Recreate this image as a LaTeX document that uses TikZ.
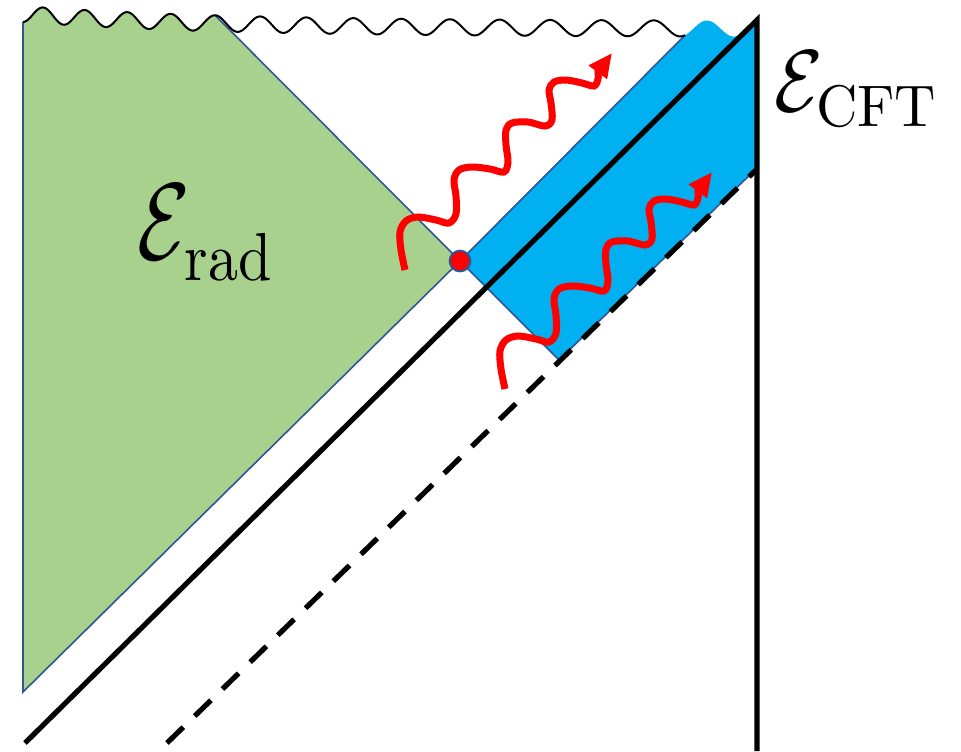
\documentclass[tikz,border=0pt]{standalone}
\usepackage{graphicx}
\usetikzlibrary{arrows.meta}
\definecolor{grn}{RGB}{169,209,142}
\definecolor{blu}{RGB}{0,176,240}
\definecolor{edgeblue}{RGB}{47,85,151}
\definecolor{phred}{RGB}{255,0,0}
\begin{document}
\begin{tikzpicture}[x=0.75pt,y=-0.75pt,
  declare function={wn(\x)=(sqrt(1701.6+1.764*(\x-43))-41.25)/0.882;
                    wv(\x)=29-15*exp(-(\x-23)/200)-8*cos(360*wn(\x));},
  rim/.style={draw=edgeblue, line width=1.2pt, line join=miter},
  wavyline/.style={draw=black, line width=1.5pt},
  boldline/.style={draw=black, line width=3.9pt, line join=miter},
  dashline/.style={draw=black, line width=3.9pt, dash pattern=on 17pt off 12pt},
  photonline/.style={draw=phred, line width=5.25pt, -{Triangle[length=18pt,width=16pt]}},
  photon/.pic={
    \draw[photonline] plot[smooth, tension=0.55] coordinates {
      (405,270) (401,250) (400,232) (406,221) (418,217) (436,220) (449,223)
      (456,214) (456,196) (454,180) (459,170) (472,167) (490,169) (504,172)
      (508,162) (506,145) (506,130) (512,123) (528,122) (545,126)
      (552,120) (551,103) (549,90) (554,82) (566,80) (582,83) (594,86)
      (598,79) (598,72)} -- (612,53);
  },
  lbl/.style={inner sep=0pt, anchor=base west}]
\useasboundingbox (0,0) rectangle (961,751);
% green region
\fill[grn] plot[domain=23:215, samples=120] (\x,{wv(\x)}) -- (460,261) -- (23,692) -- cycle;
\draw[rim] (23,{wv(23)}) -- (23,692) -- (460,261) -- (215,{wv(215)});
% blue region
\fill[blu] (460,261) -- (685,{wv(685)}) -- plot[domain=685:757, samples=60] (\x,{wv(\x)}) -- (757,168) -- (559,360) -- cycle;
\draw[rim] (685,{wv(685)}) -- (460,261) -- (559,360) -- (757,168);
% singularity
\draw[wavyline] plot[domain=23:685, samples=400, smooth] (\x,{wv(\x)});
% horizon and boundary
\draw[boldline] (25,743) -- (757,20) -- (757,751);
\draw[dashline] (167,743) -- (757,169);
% photons
\pic at (0,0) {photon};
\pic at (100,119) {photon};
% point
\node[circle, fill=phred, draw=edgeblue, line width=1.5pt, minimum size=15.5pt, inner sep=0pt] (dot) at (460,261) {};
% labels
\node[lbl] (erad) at (137,259) {\scalebox{6.4}[8.2]{$\mathcal{E}$}\kern-4pt\raisebox{-16pt}{\scalebox{4.5}[5.1]{rad}}};
\node[lbl] (ecft) at (774,111) {\scalebox{5.9}[6.6]{$\mathcal{E}$}\kern-5pt\raisebox{-11.25pt}{\scalebox{4.3}[4.4]{CFT}}};
\end{tikzpicture}
\end{document}
